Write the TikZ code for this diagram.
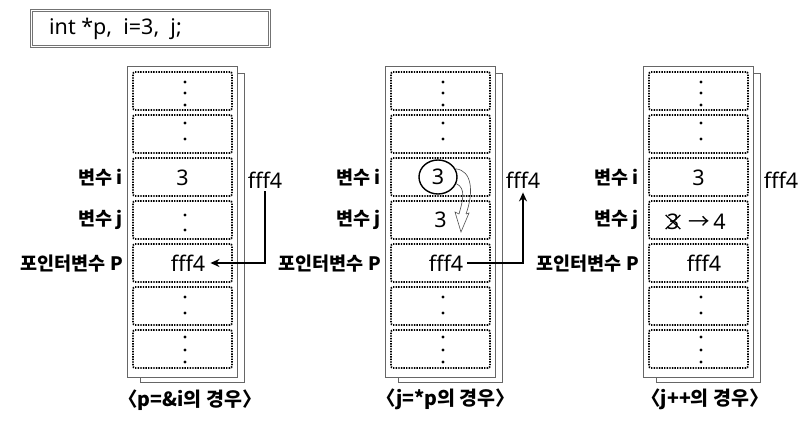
\documentclass[tikz,border=0pt]{standalone}
\usepackage{fontspec}
\setmainfont{Noto Sans}
\newfontfamily\kr{Noto Sans CJK KR}
\usetikzlibrary{arrows.meta,shapes.geometric,calc}
\begin{document}
\begin{tikzpicture}[x=1pt,y=-1pt,
  every node/.style={font=\fontsize{21.5}{24}\selectfont, inner sep=0pt},
  lbl/.style={anchor=east,font=\kr\fontsize{18.5}{22}\selectfont\bfseries},
  capt/.style={font=\kr\fontsize{19.5}{22}\selectfont\bfseries},
  cellbox/.style={draw, dash pattern=on 1.4pt off 1.2pt, line width=1.7pt, rounded corners=2pt, minimum width=99pt, minimum height=38pt},
  framebox/.style={draw=black!60, fill=white, line width=0.8pt},
  ptr/.style={line width=1.8pt, -{Stealth[length=9pt,width=8pt]}},
  dotc/.style={fill, radius=1.6pt},
  declbox/.style={draw=black!55, double=white, double distance=1.4pt, line width=0.8pt, minimum width=238pt, minimum height=36pt},
  thinarr/.style={draw=black!70, line width=0.6pt}
]
\useasboundingbox (0,0) rectangle (812,422);

% declaration box
\node[declbox] (decl) at (150.5,28.5) {};
\node[anchor=west] (decltxt) at (49,28.5) {int *p,\ \ i=3,\ \ j;};

\foreach \col/\dx in {1/0,2/258,3/516}{
  \draw[framebox] (140+\dx,73) rectangle (244+\dx,382);
  \draw[framebox] (127+\dx,66) rectangle (237+\dx,377);
  \foreach \k in {1,...,7}{
    \node[cellbox] (c\col-\k) at (182.5+\dx,{91+43*(\k-1)}) {};
  }
  % ellipsis dots
  \fill[dotc] (185+\dx,82) circle;
  \fill[dotc] (185+\dx,93) circle;
  \fill[dotc] (185+\dx,105) circle;
  \fill[dotc] (185+\dx,123) circle;
  \fill[dotc] (185+\dx,139) circle;
  \fill[dotc] (185+\dx,297) circle;
  \fill[dotc] (185+\dx,313) circle;
  \fill[dotc] (185+\dx,337) circle;
  \fill[dotc] (185+\dx,350) circle;
  \fill[dotc] (185+\dx,362) circle;
  % labels
  \node[lbl] (li\col) at (123+\dx,178) {변수 i};
  \node[lbl] (lj\col) at (123+\dx,220) {변수 j};
  \node[lbl] (lp\col) at (123+\dx,264) {포인터변수 P};
  % address outside
  \node (o\col) at (265+\dx,180) {fff4};
  % pointer value
  \node (p\col) at (188+\dx,263) {fff4};
}

% column 1
\node (i1) at (182.5,178) {3};
\fill[dotc] (185,215) circle;
\fill[dotc] (185,230) circle;
\draw[ptr] ([yshift=-3pt]o1.south) |- ([xshift=5pt]p1.east);
\node[capt] (cap1) at (190,400) {〈p=\&i의 경우〉};

% column 2
\node[draw, ellipse, line width=1.4pt, minimum width=38pt, minimum height=34pt] (i2) at (438,177) {3};
\node (j2) at (440.5,220) {3};
\coordinate (ta) at (466,214);
\coordinate (tb) at (459,214);
\coordinate (tip) at (461,232);
\draw[thinarr] (i2.25) .. controls (472,170) and (474,192) .. (ta);
\draw[thinarr] (i2.-20) .. controls (466,188) and (463,200) .. (tb);
\draw[thinarr] (ta) -- ++(3,-1) -- (tip) -- ($(tb)+(-4,-2)$) -- (tb);
\draw[ptr] ([xshift=4pt]p2.east) -| ([yshift=-4pt]o2.south);
\node[capt] (cap2) at (446,399) {〈j=*p의 경우〉};

% column 3
\node (i3) at (698.5,178) {3};
\node (x3) at (673,222) {3};
\draw[line width=1.2pt] ([xshift=-1pt,yshift=-1pt]x3.north west) -- ([xshift=1pt,yshift=1pt]x3.south east)
  ([xshift=1pt,yshift=-1pt]x3.north east) -- ([xshift=-1pt,yshift=1pt]x3.south west);
\node[anchor=west] (n3) at (688,222) {{\kr →}\,4};
\node[capt] (cap3) at (705,399) {〈j++의 경우〉};
\end{tikzpicture}
\end{document}
